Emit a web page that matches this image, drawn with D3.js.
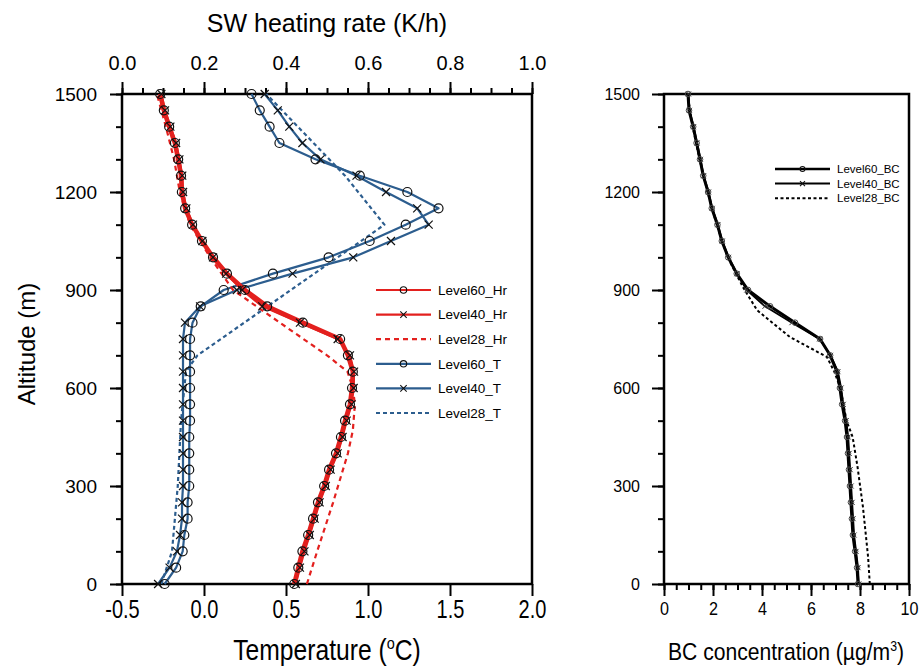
<!DOCTYPE html>
<html>
<head>
<meta charset="utf-8">
<script src="https://cdn.jsdelivr.net/npm/d3@7"></script>
<style>
  body { margin: 0; background: #fff; }
  svg { display: block; font-family: 'Liberation Sans', Arial, Helvetica, sans-serif; }
</style>
</head>
<body>
<div id="app"></div>
<script>
'use strict'

// altitude levels (m) of the 60 and 40 level runs
const altitude = [0, 50, 100, 150, 200, 250, 300, 350, 400, 450, 500, 550, 600, 650, 700, 750,
  800, 850, 900, 950, 1000, 1050, 1100, 1150, 1200, 1250, 1300, 1350, 1400, 1450, 1500]

// temperature (°C)
const level60T = [-0.24, -0.17, -0.13, -0.12, -0.10, -0.10, -0.09, -0.09, -0.09, -0.09, -0.085, -0.085, -0.085, -0.085, -0.085, -0.085,
  -0.07, -0.02, 0.12, 0.42, 0.76, 1.01, 1.23, 1.43, 1.24, 0.95, 0.68, 0.46, 0.40, 0.34, 0.29]
const level40T = [-0.28, -0.21, -0.165, -0.146, -0.134, -0.134, -0.128, -0.128, -0.128, -0.128, -0.128, -0.128, -0.128, -0.128, -0.128, -0.128,
  -0.116, -0.024, 0.20, 0.54, 0.91, 1.14, 1.37, 1.30, 1.11, 0.93, 0.71, 0.60, 0.52, 0.45, 0.37]
const level28TAlt = [0, 100, 300, 500, 650, 700, 1100, 1250, 1500]
const level28T = [-0.26, -0.195, -0.16, -0.14, -0.11, -0.04, 1.10, 0.86, 0.38]

// SW heating rate (K/h)
const level60Hr = [0.42, 0.43, 0.44, 0.454, 0.466, 0.478, 0.493, 0.505, 0.522, 0.534, 0.544, 0.556, 0.561, 0.563, 0.551, 0.532,
  0.441, 0.354, 0.30, 0.256, 0.222, 0.195, 0.171, 0.154, 0.146, 0.144, 0.137, 0.129, 0.115, 0.102, 0.093]
const level40Hr = [0.424, 0.434, 0.445, 0.458, 0.47, 0.482, 0.497, 0.509, 0.526, 0.538, 0.548, 0.56, 0.565, 0.566, 0.556, 0.526,
  0.434, 0.342, 0.293, 0.254, 0.222, 0.196, 0.173, 0.157, 0.149, 0.147, 0.14, 0.132, 0.118, 0.105, 0.096]
const level28HrAlt = [0, 100, 250, 400, 470, 550, 600, 650, 700, 800, 900, 1000, 1100, 1200, 1300, 1400, 1500]
const level28Hr = [0.451, 0.476, 0.515, 0.551, 0.563, 0.568, 0.563, 0.55, 0.50, 0.385, 0.271, 0.215, 0.166, 0.141, 0.127, 0.107, 0.085]

// BC concentration (µg/m3)
const level60BC = [7.92, 7.88, 7.80, 7.71, 7.67, 7.63, 7.59, 7.55, 7.51, 7.47, 7.39, 7.27, 7.18, 7.06, 6.78, 6.37,
  5.35, 4.33, 3.43, 2.97, 2.62, 2.36, 2.18, 1.95, 1.80, 1.60, 1.47, 1.33, 1.19, 1.02, 0.98]
const level40BC = [7.95, 7.92, 7.84, 7.76, 7.72, 7.68, 7.64, 7.60, 7.56, 7.52, 7.44, 7.32, 7.23, 7.10, 6.80, 6.35,
  5.22, 4.12, 3.38, 2.98, 2.64, 2.38, 2.20, 1.97, 1.82, 1.62, 1.49, 1.35, 1.21, 1.04, 1.00]
const level28BCAlt = [0, 83, 236, 358, 450, 500, 600, 650, 695, 756, 838, 909, 1000, 1100, 1200, 1300, 1400, 1500]
const level28BC = [8.40, 8.33, 8.12, 7.90, 7.70, 7.45, 7.20, 6.95, 6.65, 5.14, 3.80, 3.22, 2.60, 2.15, 1.78, 1.45, 1.17, 0.96]

const altTicks = [0, 300, 600, 900, 1200, 1500]
const tempTicks = [-0.5, 0.0, 0.5, 1.0, 1.5, 2.0]
const hrTicks = [0.0, 0.2, 0.4, 0.6, 0.8, 1.0]
const bcTicks = [0, 2, 4, 6, 8, 10]

const RED = '#e3201e'
const BLUE = '#2c5d8e'

const W = 921, H = 666
const svg = d3.select('#app').append('svg')
  .attr('width', W)
  .attr('height', H)

// plain hyphen for negative tick labels
const fmt1 = d => d3.format('.1f')(d).replace('\u2212', '-')

/*
 * Scales
 */
const left = { x0: 122, x1: 532, y0: 94, y1: 584 }
const right = { x0: 664, x1: 909, y0: 94, y1: 584 }

const y = d3.scaleLinear().domain([0, 1500]).range([left.y1, left.y0])
const xT = d3.scaleLinear().domain([-0.5, 2.0]).range([left.x0, left.x1])
const xH = d3.scaleLinear().domain([0, 1]).range([left.x0, left.x1])
const xBC = d3.scaleLinear().domain([0, 10]).range([right.x0, right.x1])

const minorAlt = d3.range(0, 1501, 100)

function styleAxis (g, size) {
  g.select('.domain').remove()
  g.selectAll('line').attr('stroke', '#000').attr('stroke-width', 2)
  g.selectAll('text').attr('fill', '#000').style('font-size', size + 'px')
}

// squeeze labels horizontally around their own centre
function squeeze (g, sx) {
  g.selectAll('text')
    .style('transform-box', 'fill-box')
    .style('transform-origin', 'center')
    .style('transform', `scale(${sx},1)`)
}

/*
 * Left panel axes
 */
svg.append('g')
  .attr('transform', `translate(${left.x0},0)`)
  .call(d3.axisLeft(y).tickValues(minorAlt).tickSize(6).tickFormat(''))
  .call(g => styleAxis(g, 1))
svg.append('g')
  .attr('transform', `translate(${left.x0},0)`)
  .call(d3.axisLeft(y).tickValues(altTicks).tickSize(12).tickPadding(13).tickFormat(d3.format('d')))
  .call(g => styleAxis(g, 19))

svg.append('g')
  .attr('transform', `translate(0,${left.y1})`)
  .call(d3.axisBottom(xT).tickValues(tempTicks).tickSize(12).tickPadding(4).tickFormat(fmt1))
  .call(g => styleAxis(g, 25))
  .call(g => squeeze(g, 0.8))

svg.append('g')
  .attr('transform', `translate(0,${left.y0})`)
  .call(d3.axisTop(xH).tickValues(d3.range(0, 1.001, 0.05)).tickSize(6).tickFormat(''))
  .call(g => styleAxis(g, 1))
svg.append('g')
  .attr('transform', `translate(0,${left.y0})`)
  .call(d3.axisTop(xH).tickValues(hrTicks).tickSize(12).tickPadding(12).tickFormat(fmt1))
  .call(g => styleAxis(g, 20))

svg.append('rect')
  .attr('x', left.x0).attr('y', left.y0)
  .attr('width', left.x1 - left.x0).attr('height', left.y1 - left.y0)
  .attr('fill', 'none').attr('stroke', '#000').attr('stroke-width', 2.5)

/*
 * Right panel axes
 */
svg.append('g')
  .attr('transform', `translate(${right.x0},0)`)
  .call(d3.axisLeft(y).tickValues(minorAlt).tickSize(6).tickFormat(''))
  .call(g => styleAxis(g, 1))
svg.append('g')
  .attr('transform', `translate(${right.x0},0)`)
  .call(d3.axisLeft(y).tickValues(altTicks).tickSize(12).tickPadding(12).tickFormat(d3.format('d')))
  .call(g => styleAxis(g, 16))
svg.append('g')
  .attr('transform', `translate(0,${right.y1})`)
  .call(d3.axisBottom(xBC).tickValues(d3.range(0, 10.01, 0.5)).tickSize(6).tickFormat(''))
  .call(g => styleAxis(g, 1))
svg.append('g')
  .attr('transform', `translate(0,${right.y1})`)
  .call(d3.axisBottom(xBC).tickValues(bcTicks).tickSize(12).tickPadding(6).tickFormat(d3.format('d')))
  .call(g => styleAxis(g, 19))
  .call(g => squeeze(g, 0.85))

svg.append('rect')
  .attr('x', right.x0).attr('y', right.y0)
  .attr('width', right.x1 - right.x0).attr('height', right.y1 - right.y0)
  .attr('fill', 'none').attr('stroke', '#000').attr('stroke-width', 2.5)

/*
 * Titles
 */
svg.append('text')
  .attr('x', 327).attr('y', 32)
  .attr('text-anchor', 'middle')
  .style('font-size', '25px')
  .text('SW heating rate (K/h)')

svg.append('text')
  .attr('transform', 'translate(35,344) rotate(-90)')
  .attr('text-anchor', 'middle')
  .style('font-size', '24px')
  .text('Altitude (m)')

const tTitle = svg.append('text')
  .attr('text-anchor', 'middle')
  .attr('transform', 'translate(327,660) scale(0.85,1)')
  .style('font-size', '29px')
tTitle.append('tspan').text('Temperature (')
tTitle.append('tspan').attr('dy', -11).style('font-size', '17px').text('o')
tTitle.append('tspan').attr('dy', 11).text('C)')

const bcTitle = svg.append('text')
  .attr('text-anchor', 'middle')
  .attr('transform', 'translate(786,660) scale(0.88,1)')
  .style('font-size', '24px')
bcTitle.append('tspan').text('BC concentration (µg/m')
bcTitle.append('tspan').attr('dy', -9).style('font-size', '14px').text('3')
bcTitle.append('tspan').attr('dy', 9).text(')')

/*
 * Series
 */
function drawLine (xs, ys, xScale, color, width, dash) {
  const pts = xs.map((v, i) => [xScale(v), y(ys[i])])
  return svg.append('path')
    .datum(pts)
    .attr('d', d3.line())
    .attr('fill', 'none')
    .attr('stroke', color)
    .attr('stroke-width', width)
    .attr('stroke-dasharray', dash || null)
    .attr('stroke-linejoin', 'round')
}

function drawCircles (xs, ys, xScale, r, color, sw) {
  svg.append('g').selectAll('circle')
    .data(xs.map((v, i) => [xScale(v), y(ys[i])]))
    .join('circle')
    .attr('cx', d => d[0]).attr('cy', d => d[1]).attr('r', r)
    .attr('fill', 'none').attr('stroke', color).attr('stroke-width', sw)
}

function drawCrosses (xs, ys, xScale, s, color, sw) {
  svg.append('g').selectAll('path')
    .data(xs.map((v, i) => [xScale(v), y(ys[i])]))
    .join('path')
    .attr('d', d => `M${d[0] - s},${d[1] - s}L${d[0] + s},${d[1] + s}M${d[0] - s},${d[1] + s}L${d[0] + s},${d[1] - s}`)
    .attr('fill', 'none').attr('stroke', color).attr('stroke-width', sw)
}

// temperature (blue)
drawLine(level28T, level28TAlt, xT, BLUE, 2.2, '4,3')
drawLine(level40T, altitude, xT, BLUE, 2.2)
drawLine(level60T, altitude, xT, BLUE, 2.2)

// heating rate (red)
drawLine(level28Hr, level28HrAlt, xH, RED, 2.2, '5,4')
drawLine(level40Hr, altitude, xH, RED, 2.2)
drawLine(level60Hr, altitude, xH, RED, 4.5)

drawCrosses(level40T, altitude, xT, 4, '#111', 1.2)
drawCircles(level60T, altitude, xT, 4.5, '#111', 1.2)
drawCrosses(level40Hr, altitude, xH, 4, '#111', 1.2)
drawCircles(level60Hr, altitude, xH, 4.5, '#111', 1.2)

// BC (black)
drawLine(level28BC, level28BCAlt, xBC, '#000', 2, '3,2.5')
drawLine(level40BC, altitude, xBC, '#000', 1.8)
drawLine(level60BC, altitude, xBC, '#000', 3)
drawCrosses(level40BC, altitude, xBC, 2.5, '#333', 1)
drawCircles(level60BC, altitude, xBC, 2.8, '#444', 1)

/*
 * Legends
 */
const leftLegend = [
  { name: 'Level60_Hr', color: RED, w: 2.2, marker: 'o' },
  { name: 'Level40_Hr', color: RED, w: 2.2, marker: 'x' },
  { name: 'Level28_Hr', color: RED, w: 2.2, dash: '5,4' },
  { name: 'Level60_T', color: BLUE, w: 2.2, marker: 'o' },
  { name: 'Level40_T', color: BLUE, w: 2.2, marker: 'x' },
  { name: 'Level28_T', color: BLUE, w: 2.2, dash: '4,3' }
]
const rightLegend = [
  { name: 'Level60_BC', color: '#000', w: 2.5, marker: 'o' },
  { name: 'Level40_BC', color: '#000', w: 2, marker: 'x' },
  { name: 'Level28_BC', color: '#000', w: 2, dash: '3,2.5' }
]

function drawLegend (items, x0, x1, yStart, step, fontSize, mr) {
  const g = svg.append('g')
  items.forEach((d, i) => {
    const yy = yStart + i * step
    g.append('line')
      .attr('x1', x0).attr('x2', x1).attr('y1', yy).attr('y2', yy)
      .attr('stroke', d.color).attr('stroke-width', d.w)
      .attr('stroke-dasharray', d.dash || null)
    const cx = (x0 + x1) / 2
    if (d.marker === 'o') {
      g.append('circle').attr('cx', cx).attr('cy', yy).attr('r', mr)
        .attr('fill', 'none').attr('stroke', '#111').attr('stroke-width', 1.1)
    } else if (d.marker === 'x') {
      g.append('path')
        .attr('d', `M${cx - mr},${yy - mr}L${cx + mr},${yy + mr}M${cx - mr},${yy + mr}L${cx + mr},${yy - mr}`)
        .attr('stroke', '#111').attr('stroke-width', 1.1)
    }
    g.append('text')
      .attr('x', x1 + 7).attr('y', yy + fontSize * 0.36)
      .style('font-size', fontSize + 'px')
      .text(d.name)
  })
}

drawLegend(leftLegend, 376, 431, 290, 24.6, 13.5, 3.2)
drawLegend(rightLegend, 775, 830, 169, 14.6, 11.5, 2.5)
</script>
</body>
</html>
